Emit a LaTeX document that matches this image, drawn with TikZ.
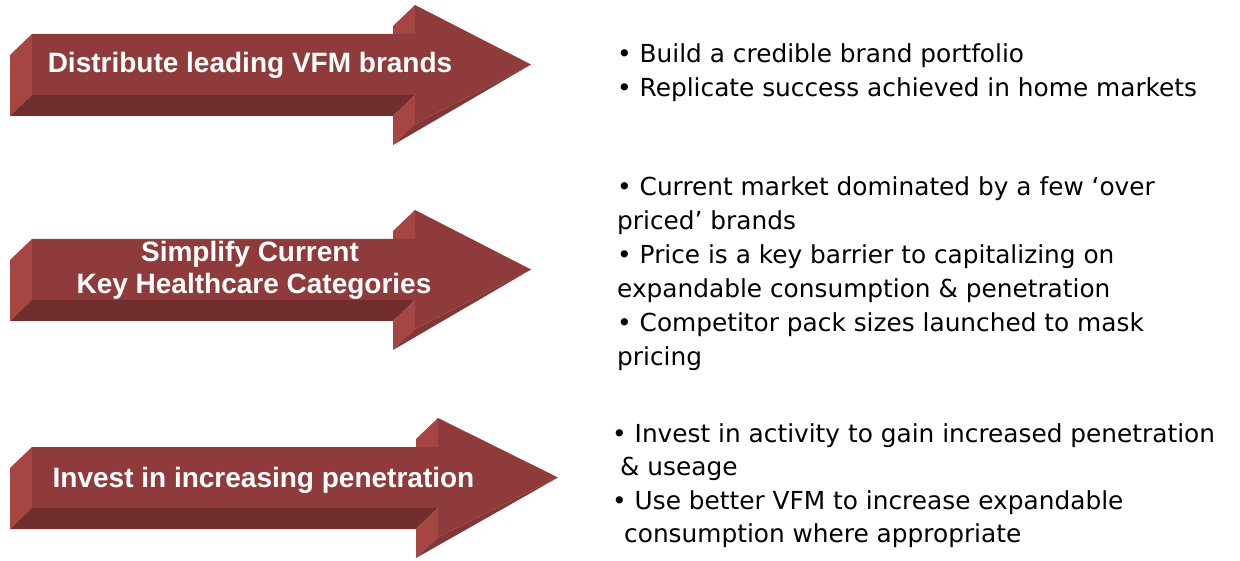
\documentclass[tikz,border=0pt]{standalone}
\usepackage{fontspec}
\setmainfont{DejaVu Sans}
\newfontfamily\arrowfont{Liberation Sans}[BoldFont={Liberation Sans Bold}]
\definecolor{faceFront}{RGB}{143,59,59}
\definecolor{faceLight}{RGB}{165,69,68}
\definecolor{faceDark}{RGB}{114,45,45}
\definecolor{faceSlant}{RGB}{132,54,54}
\tikzset{
  arrowlabel/.style={text=white, font=\arrowfont\bfseries\fontsize{28}{32}\selectfont, inner sep=0pt},
  pointtext/.style={text=black, font=\fontsize{24.8}{29}\selectfont, inner sep=0pt, anchor=base west},
}
% Extruded block arrow: #1 = vertical centre, #2 = x of the head's back edge, #3 = x of the tip
\newcommand{\blockarrow}[3]{%
  \fill[faceLight] (#2,{#1-59.5}) -- (#2,{#1-30.5}) -- ({#2-22},{#1-9.5}) -- ({#2-22},{#1-38.5}) -- cycle;
  \fill[faceLight] (32,{#1-30.5}) -- (32,{#1+30.5}) -- (10,{#1+51.5}) -- (10,{#1-9.5}) -- cycle;
  \fill[faceDark] (32,{#1+30.5}) -- (#2,{#1+30.5}) -- ({#2-22},{#1+51.5}) -- (10,{#1+51.5}) -- cycle;
  \fill[faceLight] (#2,{#1+30.5}) -- (#2,{#1+59.5}) -- ({#2-22},{#1+80.5}) -- ({#2-22},{#1+51.5}) -- cycle;
  \fill[faceSlant] (#3,#1) -- (#2,{#1+59.5}) -- ({#2-22},{#1+80.5}) -- cycle;
  \fill[faceFront] (32,{#1-30.5}) -- (#2,{#1-30.5}) -- (#2,{#1-59.5}) -- (#3,#1)
    -- (#2,{#1+59.5}) -- (#2,{#1+30.5}) -- (32,{#1+30.5}) -- cycle;
}
\begin{document}
\begin{tikzpicture}[x=1pt,y=-1pt]
\useasboundingbox[fill=white] (0,0) rectangle (1240,561);

% three arrows
\blockarrow{64.5}{415}{531}
\blockarrow{269.5}{415}{531}
\blockarrow{477.5}{438}{558}

\node[arrowlabel, anchor=base] (a1) at (250,73) {Distribute leading VFM brands};
\node[arrowlabel, anchor=base] (a2top) at (250,262) {Simplify Current};
\node[arrowlabel, anchor=base] (a2bot) at (254,294) {Key Healthcare Categories};
\node[arrowlabel, anchor=base] (a3) at (263.5,487) {Invest in increasing penetration};

% first group of points
\node[pointtext] (p1a) at (617,63) {• Build a credible brand portfolio};
\node[pointtext] (p1b) at (617,97) {• Replicate success achieved in home markets};

% second group of points
\node[pointtext] (p2a) at (617,196) {• Current market dominated by a few ‘over};
\node[pointtext] (p2b) at (617,230) {priced’ brands};
\node[pointtext] (p2c) at (617,264) {• Price is a key barrier to capitalizing on};
\node[pointtext] (p2d) at (617,298) {expandable consumption \& penetration};
\node[pointtext] (p2e) at (617,332) {• Competitor pack sizes launched to mask};
\node[pointtext] (p2f) at (617,366) {pricing};

% third group of points
\node[pointtext] (p3a) at (612,442) {• Invest in activity to gain increased penetration};
\node[pointtext] (p3b) at (620,475.5) {\& useage};
\node[pointtext] (p3c) at (612,509) {• Use better VFM to increase expandable};
\node[pointtext] (p3d) at (624,542) {consumption where appropriate};
\end{tikzpicture}
\end{document}
